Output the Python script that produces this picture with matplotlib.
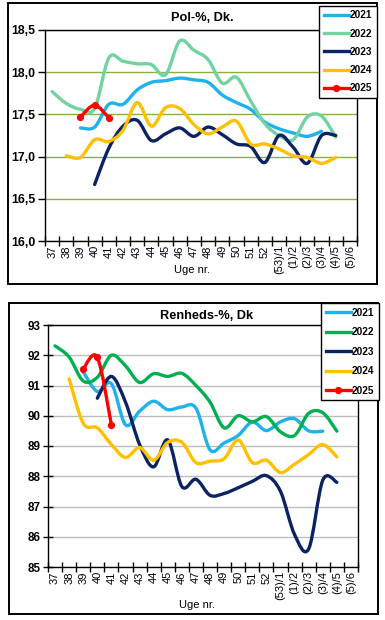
import numpy as np
import matplotlib
matplotlib.use('Agg')
import matplotlib.pyplot as plt
from matplotlib.path import Path
from matplotlib.patches import PathPatch, Rectangle
from matplotlib.lines import Line2D
from matplotlib.ticker import FuncFormatter, MultipleLocator

plt.rcParams['font.family'] = ['Liberation Sans', 'DejaVu Sans']

nan = np.nan

weeks = ['37', '38', '39', '40', '41', '42', '43', '44', '45', '46', '47',
         '48', '49', '50', '51', '52', '(53)/1', '(1)/2', '(2)/3', '(3)/4',
         '(4)/5', '(5)/6']
years = ['2021', '2022', '2023', '2024', '2025']

# Pol-%, Dk.
pol_2021 = [nan, nan, 17.34, 17.35, 17.62, 17.62, 17.79, 17.88, 17.90, 17.93, 17.91,
            17.88, 17.73, 17.64, 17.56, 17.41, 17.33, 17.28, 17.24, 17.30, nan, nan]
pol_2022 = [17.77, 17.63, 17.56, 17.57, 18.17, 18.13, 18.10, 18.09, 17.97, 18.37, 18.26,
            18.15, 17.87, 17.94, 17.66, 17.39, 17.25, 17.20, 17.47, 17.48, 17.23, nan]
pol_2023 = [nan, nan, nan, 16.67, 17.10, 17.36, 17.43, 17.19, 17.27, 17.34, 17.24,
            17.35, 17.26, 17.15, 17.12, 16.93, 17.25, 17.11, 16.92, 17.25, 17.25, nan]
pol_2024 = [nan, 17.01, 16.99, 17.20, 17.18, 17.31, 17.64, 17.36, 17.58, 17.57, 17.38,
            17.27, 17.35, 17.42, 17.15, 17.15, 17.09, 17.01, 16.99, 16.92, 16.99, nan]
pol_2025 = [nan, nan, 17.47, 17.61, 17.46] + [nan] * 17

# Renheds-%, Dk
ren_2021 = [nan, nan, 91.45, 90.80, 91.06, 89.70, 90.15, 90.48, 90.20, 90.29, 90.25,
            88.87, 89.10, 89.35, 89.79, 89.51, 89.80, 89.90, 89.50, 89.49, nan, nan]
ren_2022 = [92.31, 91.94, 91.15, 91.27, 92.00, 91.65, 91.10, 91.39, 91.30, 91.40, 91.00,
            90.45, 89.60, 90.00, 89.80, 89.97, 89.47, 89.35, 90.08, 90.10, 89.49, nan]
ren_2023 = [nan, nan, nan, 90.58, 91.30, 90.45, 89.05, 88.31, 89.20, 87.66, 87.90,
            87.37, 87.43, 87.62, 87.83, 88.02, 87.50, 86.07, 85.60, 87.87, 87.80, nan]
ren_2024 = [nan, 91.22, 89.75, 89.60, 89.05, 88.62, 88.95, 88.53, 89.12, 89.12, 88.45,
            88.50, 88.58, 89.20, 88.45, 88.53, 88.12, 88.40, 88.72, 89.05, 88.64, nan]
ren_2025 = [nan, nan, 91.55, 91.93, 89.70] + [nan] * 17

pol_colors = ['#1DB2EA', '#72D3A0', '#0B2263', '#FFC000', '#FF0000']
ren_colors = ['#1DB2EA', '#00B050', '#0B2263', '#FFC000', '#FF0000']

W, H = 385, 620


def smooth_path(xs, ys):
    # excel-style smoothed line: bezier through the points
    pts = np.array([(x, y) for x, y in zip(xs, ys) if not np.isnan(y)])
    verts = [pts[0]]
    codes = [Path.MOVETO]
    n = len(pts)
    for i in range(n - 1):
        p0 = pts[i - 1] if i > 0 else pts[i]
        p1 = pts[i]
        p2 = pts[i + 1]
        p3 = pts[i + 2] if i + 2 < n else pts[i + 1]
        verts += [p1 + (p2 - p0) / 6, p2 - (p3 - p1) / 6, p2]
        codes += [Path.CURVE4] * 3
    return Path(verts, codes)


def fig_rect(x0, y0, x1, y1):
    return [x0 / W, 1 - y1 / H, (x1 - x0) / W, (y1 - y0) / H]


def draw_panel(fig, box, axbox, title, title_xy, xlab_xy, series, colors,
               ylim, ystep, fmt, grid_color, leg_anchor, leg_spacing, lw,
               ylabsize, ydir):
    x0, y0, x1, y1 = box
    fig.add_artist(Rectangle((x0 / W, 1 - y1 / H), (x1 - x0) / W, (y1 - y0) / H,
                             transform=fig.transFigure, fill=False,
                             edgecolor='black', lw=1.4))
    ax = fig.add_axes(fig_rect(*axbox))
    x = np.arange(len(weeks))
    handles = []
    for yr, vals, c in zip(years, series, colors):
        ax.add_patch(PathPatch(smooth_path(x, vals), facecolor='none', edgecolor=c,
                               lw=lw, capstyle='round', joinstyle='round', zorder=3))
        if yr == '2025':
            ax.plot(x, vals, 'o', color=c, ms=4.2, zorder=4)
            handles.append(Line2D([], [], color=c, lw=lw, marker='o', ms=4.2))
        else:
            handles.append(Line2D([], [], color=c, lw=lw))

    ax.set_xlim(-0.5, len(weeks) - 0.5)
    ax.set_ylim(*ylim)
    ax.yaxis.set_major_locator(MultipleLocator(ystep))
    ax.yaxis.set_major_formatter(FuncFormatter(fmt))
    ax.yaxis.grid(True, color=grid_color, lw=1.0)
    ax.set_axisbelow(True)

    ax.set_xticks(x)
    ax.set_xticklabels(weeks, rotation=90, fontsize=8)
    ax.set_xticks(np.arange(-0.5, len(weeks)), minor=True)
    ax.tick_params(axis='x', which='major', length=0, pad=3)
    ax.tick_params(axis='x', which='minor', length=7, width=1, direction='inout')
    ax.tick_params(axis='y', length=5 if ydir == 'out' else 7, width=1, direction=ydir,
                   pad=2, labelsize=ylabsize)
    for lab in ax.get_yticklabels():
        lab.set_fontweight('bold')
    for sp in ax.spines.values():
        sp.set_color('black')
        sp.set_linewidth(1.0)

    fig.text(title_xy[0] / W, 1 - title_xy[1] / H, title, ha='center', va='center',
             fontsize=9.2, fontweight='bold')
    fig.text(xlab_xy[0] / W, 1 - xlab_xy[1] / H, 'Uge nr.', ha='center', va='center',
             fontsize=8)

    leg = fig.legend(handles, years, loc='upper right',
                     bbox_to_anchor=(leg_anchor[0] / W, 1 - leg_anchor[1] / H),
                     borderaxespad=0, frameon=True, fancybox=False, framealpha=1,
                     edgecolor='black', prop={'weight': 'bold', 'size': 7.2},
                     handlelength=2.5, handletextpad=0.15, labelspacing=leg_spacing,
                     borderpad=0.45)
    leg.get_frame().set_linewidth(1.0)
    return ax


fig = plt.figure(figsize=(W / 100, H / 100), dpi=100)

draw_panel(fig, (8, 3, 377, 284), (45, 30, 357, 241), 'Pol-%, Dk.', (202, 18), (192, 270),
           [pol_2021, pol_2022, pol_2023, pol_2024, pol_2025], pol_colors,
           (16.0, 18.5), 0.5, lambda v, p: f'{v:.1f}'.replace('.', ','),
           '#8BAF3E', (377, 6), 0.82, 2.4, 8.8, 'out')

draw_panel(fig, (9, 303, 378, 614), (48, 325, 358, 567), 'Renheds-%, Dk', (207, 316),
           (197, 605),
           [ren_2021, ren_2022, ren_2023, ren_2024, ren_2025], ren_colors,
           (85, 93), 1, lambda v, p: f'{v:.0f}', '#BDBDBD', (379, 303), 0.95, 2.4,
           8.4, 'inout')

fig.savefig('out.png', dpi=100)
